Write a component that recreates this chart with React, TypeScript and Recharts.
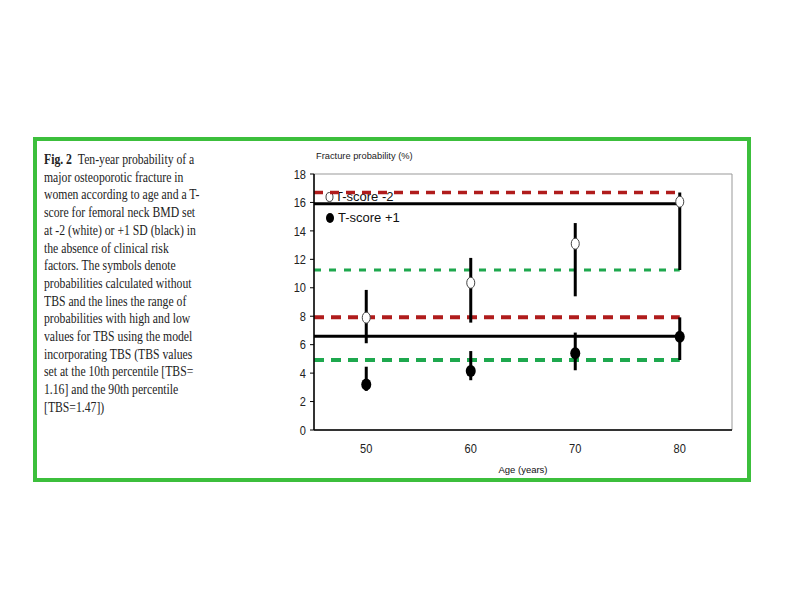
import React from "react";
import { ComposedChart, Scatter, ErrorBar, Line, XAxis, YAxis, ReferenceArea } from "recharts";

// ages on the x axis
const ages = [50, 60, 70, 80];
const xTicks = [50, 60, 70, 80];
const yTicks = [0, 2, 4, 6, 8, 10, 12, 14, 16, 18];

// T-score -2 (white): probability without TBS, low / high TBS range
const tMinus2 = [7.9, 10.35, 13.1, 16.05];
const tMinus2Low = [6.1, 7.55, 9.4, 11.25];
const tMinus2High = [9.85, 12.1, 14.55, 16.7];

// T-score +1 (black)
const tPlus1 = [3.2, 4.15, 5.4, 6.55];
const tPlus1Low = [2.75, 3.5, 4.2, 4.92];
const tPlus1High = [4.45, 5.55, 6.85, 7.92];

// horizontal guide lines (span of the age-80 ranges)
const lineAges = [45, 80];
const redHighTop = 16.7;
const blackTop = 15.9;
const greenTop = 11.25;
const redHighBottom = 7.92;
const blackBottom = 6.6;
const greenBottom = 4.92;

const caption = [
  "Ten-year probability of a",
  "major osteoporotic fracture in",
  "women according to age and a T-",
  "score for femoral neck BMD set",
  "at -2 (white) or +1 SD (black) in",
  "the absence of clinical risk",
  "factors. The symbols denote",
  "probabilities calculated without",
  "TBS and the lines the range of",
  "probabilities with high and low",
  "values for TBS using the model",
  "incorporating TBS (TBS values",
  "set at the 10th percentile [TBS=",
  "1.16] and the 90th percentile",
  "[TBS=1.47])",
];

const toPoints = (vals: number[], lows: number[], highs: number[]) =>
  ages.map((age, i) => ({ x: age, y: vals[i], err: [vals[i] - lows[i], highs[i] - vals[i]] }));

const flat = (y: number) => lineAges.map((x) => ({ x, y }));

const whitePts = toPoints(tMinus2, tMinus2Low, tMinus2High);
const blackPts = toPoints(tPlus1, tPlus1Low, tPlus1High);

const sans = "Liberation Sans, Arial, sans-serif";

function WhiteDot(props: any) {
  return <ellipse cx={props.cx} cy={props.cy} rx={4} ry={5.5} fill="#fff" stroke="#444" strokeWidth={1} />;
}
function BlackDot(props: any) {
  return <ellipse cx={props.cx} cy={props.cy} rx={5} ry={6} fill="#000" />;
}

// narrow tick text, like the squashed original
function NarrowTick(props: any) {
  const { x, y, payload, textAnchor, verticalAnchor } = props;
  const dy = verticalAnchor === "start" ? "0.71em" : "0.355em";
  return (
    <g transform={`translate(${x},${y}) scale(0.85,1)`}>
      <text x={0} y={0} dy={dy} textAnchor={textAnchor} fill="#222" fontSize={13} fontFamily={sans}>
        {payload.value}
      </text>
    </g>
  );
}

export default function App() {
  return (
    <div style={{ position: "absolute", left: 0, top: 0, width: 792, height: 612, background: "#fff" }}>
      <div
        style={{
          position: "absolute",
          left: 33,
          top: 137,
          width: 710,
          height: 337,
          border: "4px solid #3cbf3c",
        }}
      />
      <div
        style={{
          position: "absolute",
          left: 44,
          top: 151,
          fontFamily: "Liberation Serif, Times New Roman, serif",
          fontSize: 15,
          lineHeight: "17.7px",
          color: "#222",
          whiteSpace: "pre",
          transform: "scaleX(0.78)",
          transformOrigin: "left top",
        }}
      >
        {caption.map((line, i) => (
          <div key={i}>
            {i === 0 ? <b>Fig. 2  </b> : null}
            {line}
          </div>
        ))}
      </div>
      <div
        style={{
          position: "absolute",
          left: 316,
          top: 151,
          fontFamily: sans,
          fontSize: 9.3,
          color: "#222",
        }}
      >
        Fracture probability (%)
      </div>
      <div
        style={{
          position: "absolute",
          left: 325,
          top: 186,
          fontFamily: sans,
          fontSize: 13,
          color: "#111",
          lineHeight: "21px",
        }}
      >
        <div style={{ display: "flex", alignItems: "center" }}>
          <svg width={10} height={12}>
            <ellipse cx={4.5} cy={6} rx={3.5} ry={4.5} fill="#fff" stroke="#444" />
          </svg>
          <span>T-score -2</span>
        </div>
        <div style={{ display: "flex", alignItems: "center" }}>
          <svg width={11} height={12}>
            <ellipse cx={5} cy={6} rx={4} ry={5} fill="#000" />
          </svg>
          <span style={{ marginLeft: 2 }}>T-score +1</span>
        </div>
      </div>
      <div style={{ position: "absolute", left: 250, top: 140 }}>
        <ComposedChart width={520} height={345} margin={{ top: 34, right: 38, bottom: 10, left: 0 }}>
          <XAxis
            type="number"
            dataKey="x"
            domain={[45, 85]}
            ticks={xTicks}
            allowDataOverflow
            tickLine={false}
            tickSize={0}
            tickMargin={14}
            height={45}
            axisLine={{ stroke: "#000", strokeWidth: 1.5 }}
            tick={<NarrowTick />}
            label={{ value: "Age (years)", position: "insideBottom", offset: 2, fill: "#111", fontSize: 9.5, fontFamily: sans }}
          />
          <YAxis
            type="number"
            dataKey="y"
            domain={[0, 18]}
            ticks={yTicks}
            width={64}
            tickSize={4}
            tickMargin={4}
            axisLine={{ stroke: "#000", strokeWidth: 1.5 }}
            tickLine={{ stroke: "#000" }}
            tick={<NarrowTick />}
          />
          <ReferenceArea x1={45} x2={85} y1={0} y2={18} fill="none" stroke="#999" strokeWidth={1} ifOverflow="extendDomain" />
          <Line data={flat(redHighTop)} dataKey="y" stroke="#b01c1c" strokeWidth={3.5} strokeDasharray="9 7" dot={false} isAnimationActive={false} legendType="none" />
          <Line data={flat(blackTop)} dataKey="y" stroke="#000" strokeWidth={3} dot={false} isAnimationActive={false} legendType="none" />
          <Line data={flat(greenTop)} dataKey="y" stroke="#1ea84e" strokeWidth={3} strokeDasharray="7 8" dot={false} isAnimationActive={false} legendType="none" />
          <Line data={flat(redHighBottom)} dataKey="y" stroke="#b01c1c" strokeWidth={4} strokeDasharray="10 7" dot={false} isAnimationActive={false} legendType="none" />
          <Line data={flat(blackBottom)} dataKey="y" stroke="#000" strokeWidth={3} dot={false} isAnimationActive={false} legendType="none" />
          <Line data={flat(greenBottom)} dataKey="y" stroke="#1ea84e" strokeWidth={4} strokeDasharray="10 7" dot={false} isAnimationActive={false} legendType="none" />
          <Scatter data={whitePts} shape={<WhiteDot />} isAnimationActive={false}>
            <ErrorBar dataKey="err" direction="y" width={0} stroke="#000" strokeWidth={3} />
          </Scatter>
          <Scatter data={blackPts} shape={<BlackDot />} isAnimationActive={false}>
            <ErrorBar dataKey="err" direction="y" width={0} stroke="#000" strokeWidth={3} />
          </Scatter>
        </ComposedChart>
      </div>
    </div>
  );
}
